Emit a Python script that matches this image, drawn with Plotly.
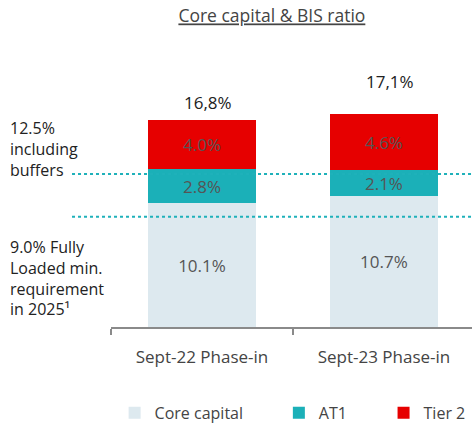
import plotly.graph_objects as go

# Capital ratio components (% of RWA)
periods = ["Sept-22 Phase-in", "Sept-23 Phase-in"]
core_capital = [10.1, 10.7]
at1 = [2.8, 2.1]
tier2 = [4.0, 4.6]
bis_totals = ["16,8%", "17,1%"]

# Regulatory thresholds
buffer_requirement = 12.5
min_requirement = 9.0

series_names = ["Core capital", "AT1", "Tier 2"]
series_values = [core_capital, at1, tier2]
series_colors = ["#dde9ef", "#1bb0b8", "#e60000"]
legend_ids = ["legend", "legend2", "legend3"]

FONT = "Open Sans"
TEAL = "#1fb1ba"

fig = go.Figure()
for name, vals, color, lg in zip(series_names, series_values, series_colors, legend_ids):
    fig.add_trace(go.Bar(
        x=periods, y=vals, name=name, legend=lg,
        marker=dict(color=color, line=dict(width=0)),
        width=0.59,
        texttemplate="%{y:.1f}%",
        textposition="inside", insidetextanchor="middle",
        textangle=0, constraintext="none",
        textfont=dict(family=FONT, size=17, color="#555555"),
        hoverinfo="skip",
    ))

# BIS ratio labels above each stack
stack_tops = [c + a + t for c, a, t in zip(core_capital, at1, tier2)]
label_offsets = [4, 19]
for p, top, txt, dy in zip(periods, stack_tops, bis_totals, label_offsets):
    fig.add_annotation(x=p, y=top, text=txt, showarrow=False, yanchor="bottom",
                       xshift=6, yshift=dy,
                       font=dict(family=FONT, size=17, color="#222222"))

# Requirement lines
for level in (buffer_requirement, min_requirement):
    fig.add_shape(type="line", xref="paper", yref="y", x0=-0.108, x1=1,
                  y0=level, y1=level, layer="above",
                  line=dict(color=TEAL, width=2, dash="dot"))

fig.add_annotation(xref="paper", yref="paper", x=-0.285, y=0.725,
                   xanchor="left", yanchor="middle", align="left", showarrow=False,
                   text=f"{buffer_requirement}%<br>including<br>buffers",
                   font=dict(family=FONT, size=16, color="#222222"))
fig.add_annotation(xref="paper", yref="paper", x=-0.285, y=0.2,
                   xanchor="left", yanchor="middle", align="left", showarrow=False,
                   text=f"{min_requirement}% Fully<br>Loaded min.<br>requirement<br>in 2025¹",
                   font=dict(family=FONT, size=16, color="#222222"))

legend_style = dict(orientation="h", yanchor="middle", xanchor="left", y=-0.35,
                    bgcolor="rgba(0,0,0,0)", borderwidth=0,
                    font=dict(family=FONT, size=16, color="#444444"))

fig.update_layout(
    width=472, height=430,
    margin=dict(l=111, r=0, t=82, b=99),
    barmode="stack",
    paper_bgcolor="white", plot_bgcolor="white",
    font=dict(family=FONT, color="#444444"),
    title=dict(text="<u>Core capital & BIS ratio</u>", xref="container", yref="container",
               x=0.576, y=0.962, xanchor="center", yanchor="middle",
               font=dict(family=FONT, size=17.5, color="#444444")),
    showlegend=True,
    legend=dict(x=0.01, **legend_style),
    legend2=dict(x=0.465, **legend_style),
    legend3=dict(x=0.755, **legend_style),
    xaxis=dict(range=[-0.5, 1.484], showline=True, linecolor="#8a8a8a", linewidth=1.5,
               ticks="outside", tickson="boundaries", ticklen=6, tickcolor="#8a8a8a",
               tickwidth=1.5, ticklabelstandoff=14, showgrid=False, zeroline=False,
               tickfont=dict(family=FONT, size=17, color="#444444")),
    yaxis=dict(range=[0, 20], visible=False, showgrid=False, zeroline=False),
)

fig.write_html("out.html")
